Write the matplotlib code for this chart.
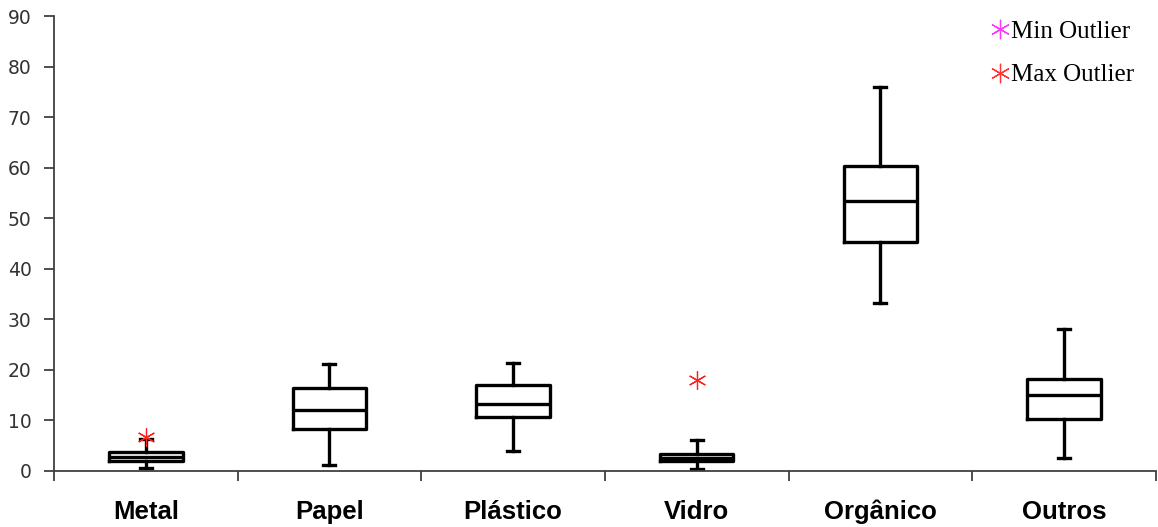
import matplotlib
matplotlib.use("Agg")
import matplotlib.pyplot as plt
from matplotlib.lines import Line2D

categories = ["Metal", "Papel", "Plástico", "Vidro", "Orgânico", "Outros"]
whisker_low = [0.5, 1.1, 4.0, 0.3, 33.1, 2.5]
q1 = [2.0, 8.2, 10.6, 2.0, 45.3, 10.2]
median = [2.8, 12.0, 13.3, 2.6, 53.3, 14.9]
q3 = [3.8, 16.3, 16.9, 3.4, 60.3, 18.2]
whisker_high = [6.3, 21.2, 21.4, 6.0, 76.0, 28.0]
max_outliers = [6.7, None, None, 18.0, None, None]

stats = []
for i, name in enumerate(categories):
    stats.append({
        "label": name,
        "whislo": whisker_low[i],
        "q1": q1[i],
        "med": median[i],
        "q3": q3[i],
        "whishi": whisker_high[i],
        "fliers": [],
    })

fig = plt.figure(figsize=(11.58, 5.27), dpi=100)
ax = fig.add_axes([0.0466, 0.1068, 0.9515, 0.8628])

positions = list(range(1, len(categories) + 1))
lw = 2.4
ax.bxp(stats, positions=positions, widths=0.4, showfliers=False,
       boxprops=dict(color="black", linewidth=lw),
       medianprops=dict(color="black", linewidth=lw),
       whiskerprops=dict(color="black", linewidth=lw),
       capprops=dict(color="black", linewidth=lw),
       capwidths=0.065)

asterisk = (6, 2, 0)
for pos, val in zip(positions, max_outliers):
    if val is not None:
        ax.plot(pos, val, linestyle="none", marker=asterisk, markersize=13,
                markeredgecolor="#ff2020", markeredgewidth=0.9)

ax.set_xlim(0.5, len(categories) + 0.5)
ax.set_ylim(0, 90)
ax.set_yticks(range(0, 91, 10))

# category boundaries as ticks, labels centred between them
ax.set_xticks([p + 0.5 for p in range(0, len(categories) + 1)])
ax.set_xticklabels([])
ax.set_xticks(positions, minor=True)
ax.set_xticklabels(categories, minor=True, fontfamily="Liberation Sans",
                   fontweight="bold", fontsize=18.5)
for lab in ax.get_xticklabels(minor=True):
    lab.set_verticalalignment("baseline")
ax.tick_params(axis="x", which="major", direction="out", length=7,
               width=1.3, color="#404040")
ax.tick_params(axis="x", which="minor", length=0, pad=35)
ax.tick_params(axis="y", direction="out", length=7, width=1.3,
               color="#404040", labelsize=13.5, labelcolor="#333333", pad=9)

for side in ["top", "right"]:
    ax.spines[side].set_visible(False)
for side in ["left", "bottom"]:
    ax.spines[side].set_color("#404040")
    ax.spines[side].set_linewidth(1.3)

handles = [
    Line2D([], [], linestyle="none", marker=asterisk, markersize=14,
           markeredgecolor="#ff33ff", markeredgewidth=0.9),
    Line2D([], [], linestyle="none", marker=asterisk, markersize=14,
           markeredgecolor="#ff3333", markeredgewidth=0.9),
]
fig.legend(handles, ["Min Outlier", "Max Outlier"], loc="upper left",
           bbox_to_anchor=(0.842, 0.995), frameon=False,
           prop={"family": "Liberation Serif", "size": 18},
           handlelength=0.6, handletextpad=0.12, labelspacing=0.85,
           borderaxespad=0.3)

fig.savefig("out.png", dpi=100)
